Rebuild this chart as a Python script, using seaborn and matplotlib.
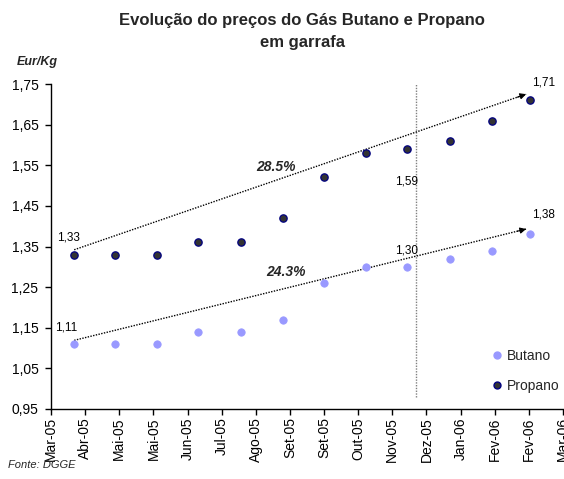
import matplotlib
matplotlib.use("Agg")
import matplotlib.pyplot as plt
import matplotlib.dates as mdates
from matplotlib.lines import Line2D
import numpy as np
import pandas as pd
import seaborn as sns

# Monthly bottled gas prices (EUR/kg), end-of-month readings
dates = ["2005-03-31", "2005-04-30", "2005-05-31", "2005-06-30", "2005-07-31", "2005-08-31",
         "2005-09-30", "2005-10-31", "2005-11-30", "2005-12-31", "2006-01-31", "2006-02-28"]
butano = [1.11, 1.11, 1.11, 1.14, 1.14, 1.17, 1.26, 1.30, 1.30, 1.32, 1.34, 1.38]
propano = [1.33, 1.33, 1.33, 1.36, 1.36, 1.42, 1.52, 1.58, 1.59, 1.61, 1.66, 1.71]

month_abbr = ["Jan", "Fev", "Mar", "Abr", "Mai", "Jun", "Jul", "Ago", "Set", "Out", "Nov", "Dez"]
y_ticks = [0.95, 1.05, 1.15, 1.25, 1.35, 1.45, 1.55, 1.65, 1.75]
axis_start = "2005-03-14"
tick_step_days = 25
n_ticks = 16
cutoff_date = "2005-12-06"

growth_labels = {"Propano": "28.5%", "Butano": "24.3%"}

col_butano = "#9999FF"
col_propano_face = "#333333"
col_propano_edge = "#000080"

sns.set_theme(style="white")
plt.rcParams["font.family"] = ["Liberation Sans", "DejaVu Sans"]

df = pd.DataFrame({"data": pd.to_datetime(dates), "Butano": butano, "Propano": propano})

fig = plt.figure(figsize=(5.64, 4.79), dpi=100)
ax = fig.add_axes([51 / 564, 1 - 409 / 479, (563 - 51) / 564, (409 - 84) / 479])

sns.scatterplot(data=df, x="data", y="Butano", ax=ax, color=col_butano, edgecolor=col_butano,
                s=28, linewidth=0.6, zorder=3)
sns.scatterplot(data=df, x="data", y="Propano", ax=ax, color=col_propano_face,
                edgecolor=col_propano_edge, s=28, linewidth=0.9, zorder=3)

# x axis: Excel-style date axis with a 25-day major unit
start = pd.Timestamp(axis_start)
tick_dates = [start + pd.Timedelta(days=tick_step_days * i) for i in range(n_ticks)]
ax.set_xlim(mdates.date2num(tick_dates[0]), mdates.date2num(tick_dates[-1]))
ax.set_xticks(mdates.date2num(tick_dates))
ax.set_xticklabels([f"{month_abbr[d.month - 1]}-{d.strftime('%y')}" for d in tick_dates],
                   rotation=90, fontsize=10)

ax.set_ylim(y_ticks[0], y_ticks[-1])
ax.set_yticks(y_ticks)
ax.set_yticklabels([f"{v:.2f}".replace(".", ",") for v in y_ticks], fontsize=10)

ax.set_xlabel("")
ax.set_ylabel("")
for side in ["top", "right"]:
    ax.spines[side].set_visible(False)
for side in ["left", "bottom"]:
    ax.spines[side].set_color("black")
    ax.spines[side].set_linewidth(1.0)
ax.tick_params(axis="both", which="both", direction="out", length=4, width=1,
               color="black", labelcolor="black", bottom=True, left=True)
ax.tick_params(axis="x", pad=2)
ax.tick_params(axis="y", pad=5)

# vertical dotted reference line
cut = mdates.date2num(pd.Timestamp(cutoff_date))
ax.plot([cut, cut], [0.98, 1.75], color="#808080", ls=(0, (1, 1)), lw=1.0, zorder=1)

# growth trend arrows from first to last reading
def trend_arrow(series, dy0, dy1, label, label_pos):
    x0 = mdates.date2num(df["data"].iloc[0])
    x1 = mdates.date2num(df["data"].iloc[-1]) - 3
    y0 = df[series].iloc[0] + dy0
    y1 = df[series].iloc[-1] + dy1
    ax.plot([x0, x1], [y0, y1], color="black", ls=(0, (1, 1)), lw=1.0, zorder=2)
    xh = x1 - (x1 - x0) * 0.02
    yh = y1 - (y1 - y0) * 0.02
    ax.annotate("", xy=(x1, y1), xytext=(xh, yh),
                arrowprops=dict(arrowstyle="-|>", color="black", lw=0.8, mutation_scale=9,
                                shrinkA=0, shrinkB=0), zorder=2)
    ax.text(mdates.date2num(pd.Timestamp(label_pos[0])), label_pos[1], label,
            fontsize=10, fontweight="bold", fontstyle="italic", ha="center", va="center")

trend_arrow("Propano", 0.012, 0.015, growth_labels["Propano"], ("2005-08-26", 1.546))
trend_arrow("Butano", 0.009, 0.013, growth_labels["Butano"], ("2005-09-02", 1.286))

# value labels
def value_label(series, idx, dx, dy):
    x = df["data"].iloc[idx]
    y = df[series].iloc[idx]
    ax.annotate(f"{y:.2f}".replace(".", ","), xy=(mdates.date2num(x), y),
                xytext=(dx, dy), textcoords="offset pixels", ha="center", va="center",
                fontsize=8.5, color="black")

value_label("Propano", 0, -6, 17)
value_label("Butano", 0, -8, 16)
value_label("Propano", 8, -1, -32)
value_label("Butano", 8, -1, 16)
value_label("Propano", 11, 13, 18)
value_label("Butano", 11, 13, 20)

handles = [
    Line2D([], [], marker="o", ls="", markersize=5, markerfacecolor=col_butano,
           markeredgecolor=col_butano, label="Butano"),
    Line2D([], [], marker="o", ls="", markersize=5, markerfacecolor=col_propano_face,
           markeredgecolor=col_propano_edge, label="Propano"),
]
ax.legend(handles=handles, loc="upper left", bbox_to_anchor=(490 / 564, 1 - 346 / 479),
          bbox_transform=fig.transFigure, frameon=False, fontsize=10, handlelength=0.6,
          handletextpad=0.4, labelspacing=1.15, borderaxespad=0, borderpad=0.2)

fig.text(302 / 564, 1 - 21 / 479, "Evolução do preços do Gás Butano e Propano",
         ha="center", va="center", fontsize=12, fontweight="bold")
fig.text(302 / 564, 1 - 43 / 479, "em garrafa",
         ha="center", va="center", fontsize=12, fontweight="bold")
fig.text(37 / 564, 1 - 62 / 479, "Eur/Kg", ha="center", va="center", fontsize=9,
         fontweight="bold", fontstyle="italic")
fig.text(8 / 564, 1 - 465 / 479, "Fonte: DGGE", ha="left", va="center", fontsize=8,
         fontstyle="italic")

fig.savefig("out.png", dpi=100)
